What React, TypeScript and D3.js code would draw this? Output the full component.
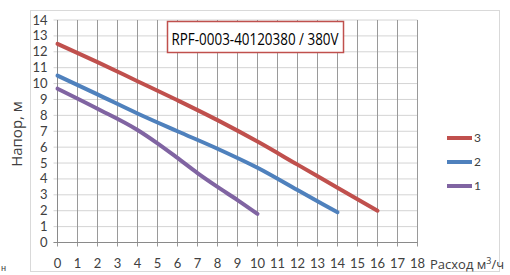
import React from "react";
import * as d3 from "d3";

const xTicks = d3.range(0, 19);
const yTicks = d3.range(0, 15);

const series3X = [0, 2, 4, 6, 8, 10, 12, 14, 16];
const series3Y = [12.5, 11.35, 10.15, 8.95, 7.7, 6.35, 4.9, 3.45, 2.0];
const series2X = [0, 2, 4, 6, 8, 10, 12, 14];
const series2Y = [10.5, 9.32, 8.12, 7.0, 5.9, 4.7, 3.3, 1.9];
const series1X = [0, 2, 4, 5, 6, 7, 8, 9, 10];
const series1Y = [9.68, 8.42, 7.08, 6.24, 5.32, 4.37, 3.5, 2.67, 1.8];

const seriesNames = ["3", "2", "1"];
const seriesColors = ["#c0504d", "#4f81bd", "#8064a2"];

const title = "RPF-0003-40120380 / 380V";
const yLabel = "Напор, м";

export default function App() {
  const x = d3.scaleLinear().domain([0, 18]).range([57.5, 417.5]);
  const y = d3.scaleLinear().domain([0, 14]).range([242.5, 20]);
  const line = d3
    .line<[number, number]>()
    .x((d) => x(d[0]))
    .y((d) => y(d[1]))
    .curve(d3.curveMonotoneX);
  const series = [
    series3X.map((v, i) => [v, series3Y[i]] as [number, number]),
    series2X.map((v, i) => [v, series2Y[i]] as [number, number]),
    series1X.map((v, i) => [v, series1Y[i]] as [number, number]),
  ];
  const font = "Lato, 'Open Sans', sans-serif";
  return (
    <svg
      width={510}
      height={275}
      style={{ position: "absolute", left: 0, top: 0 }}
      fontFamily={font}
    >
      <rect x={0} y={0} width={510} height={275} fill="#fff" />
      <rect x={30.5} y={10.5} width={469} height={261} fill="#fff" stroke="#d9d9d9" />
      {yTicks.map((t) => (
        <line key={"h" + t} x1={x(0) - 4} x2={x(18)} y1={y(t)} y2={y(t)} stroke="#d4d4d4" strokeWidth={1} />
      ))}
      {xTicks.map((t) => (
        <line key={"v" + t} x1={x(t)} x2={x(t)} y1={y(14)} y2={y(0) + 4} stroke="#9a9a9a" strokeWidth={1} />
      ))}
      <line x1={x(0) - 4} x2={x(18)} y1={y(0)} y2={y(0)} stroke="#8a8a8a" />
      <line x1={x(0)} x2={x(0)} y1={y(14)} y2={y(0)} stroke="#8a8a8a" />
      {yTicks.map((t) => (
        <text key={"yl" + t} x={x(0) - 10} y={y(t)} dy="0.35em" textAnchor="end" fontSize={13} fill="#404040">
          {t}
        </text>
      ))}
      {xTicks.map((t) => (
        <text key={"xl" + t} x={x(t)} y={263} dy="0.35em" textAnchor="middle" fontSize={13} fill="#404040">
          {t}
        </text>
      ))}
      <text x={430} y={269} fontSize={13} fill="#404040" fontFamily="'Open Sans', sans-serif">
        Расход м<tspan dy={-5} fontSize={9}>3</tspan>
        <tspan dy={5}>/ч</tspan>
      </text>
      <text transform={`translate(22,134) rotate(-90)`} textAnchor="middle" fontSize={15} fill="#404040" fontFamily="'Open Sans', sans-serif">
        {yLabel}
      </text>
      <text x={1} y={271} fontSize={9} fill="#404040">н</text>
      {series.map((s, i) => (
        <path key={"s" + i} d={line(s) || ""} fill="none" stroke={seriesColors[i]} strokeWidth={4} strokeLinecap="round" />
      ))}
      <rect x={167.5} y={21.5} width={176} height={31} fill="#fff" stroke="#c0504d" strokeWidth={1.5} />
      <text
        x={171.5}
        y={45}
        fontSize={16.5}
        fill="#000"
        fontFamily="'Open Sans', sans-serif"
        textLength={167}
        lengthAdjust="spacingAndGlyphs"
      >
        {title}
      </text>
      {seriesNames.map((n, i) => (
        <g key={"lg" + i}>
          <line x1={447} x2={472} y1={138 + i * 24} y2={138 + i * 24} stroke={seriesColors[i]} strokeWidth={4} />
          <text x={474} y={138 + i * 24} dy="0.35em" fontSize={12} fill="#404040">
            {n}
          </text>
        </g>
      ))}
    </svg>
  );
}
